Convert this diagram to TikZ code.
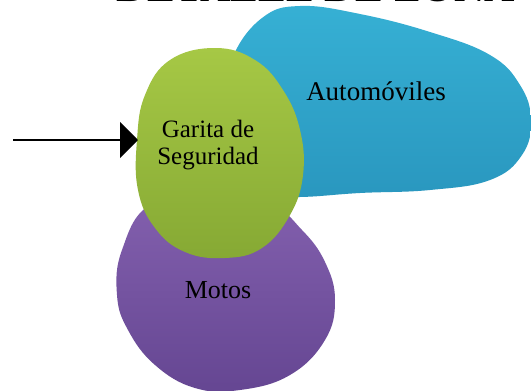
\documentclass[tikz,border=0pt]{standalone}
\usepackage{fontspec}
\setmainfont{Liberation Serif}
\usetikzlibrary{arrows.meta}
\definecolor{bluetop}{HTML}{36B0D4}
\definecolor{bluebot}{HTML}{2996BE}
\definecolor{greentop}{HTML}{A6C845}
\definecolor{greenbot}{HTML}{86A934}
\definecolor{purptop}{HTML}{8360AE}
\definecolor{purpbot}{HTML}{654692}
\tikzset{
  blob/.style={smooth cycle, tension=0.7},
  label/.style={text=black, align=center, inner sep=0pt},
}
\begin{document}
\begin{tikzpicture}[x=1pt,y=-1pt]
\useasboundingbox (0,0) rectangle (531,391);
\clip (0,0) rectangle (531,391);
\fill[white] (0,0) rectangle (531,391);
% cut-off title
\node[anchor=base, font=\bfseries\fontsize{42}{46}\selectfont, inner sep=0pt] (title) at (316,1.5) {DETALLE DE ZONA};
% blue blob
\shade[top color=bluetop, bottom color=bluebot]
  plot[blob] coordinates {(233,57) (262,18) (300,6) (360,14) (430,32) (490,55) (520,85) (531,120) (522,155) (490,180) (430,190) (360,193) (300,197) (255,195) (240,140) (232,95)};
% purple blob
\shade[top color=purptop, bottom color=purpbot]
  plot[blob] coordinates {(150,205) (210,198) (270,205) (302,230) (325,262) (335,300) (325,340) (290,375) (240,390) (195,388) (155,365) (128,330) (117,295) (122,250)};
% green blob
\shade[top color=greentop, bottom color=greenbot]
  plot[blob] coordinates {(215,48) (255,60) (283,90) (300,130) (303,175) (290,215) (262,248) (225,258) (185,252) (155,228) (138,190) (137,140) (145,95) (170,60)};
% labels
\node[label, font=\fontsize{27}{30}\selectfont] (auto) at (376,91) {Automóviles};
\node[label, font=\fontsize{25}{27}\selectfont] (garita) at (208,145) {Garita de\\Seguridad};
\node[label, font=\fontsize{26}{30}\selectfont] (motos) at (218,290) {Motos};
% arrow
\coordinate (src) at (13,140);
\coordinate (tip) at (138,140);
\draw[line width=2.2pt, -{Triangle[length=18pt,width=36pt]}] (src) -- (tip);
\end{tikzpicture}
\end{document}
